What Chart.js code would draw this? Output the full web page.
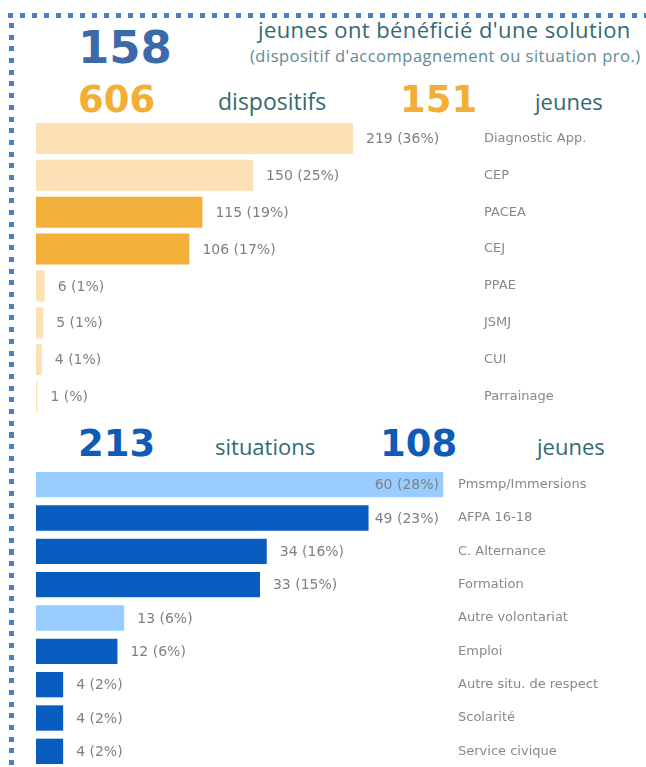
<!DOCTYPE html>
<html>
<head>
<meta charset="utf-8">
<script src="https://cdn.jsdelivr.net/npm/chart.js@4.4.0/dist/chart.umd.min.js"></script>
<style>
  html, body { margin: 0; padding: 0; background: #fff; width: 646px; height: 767px; overflow: hidden; }
  .abs { position: absolute; white-space: nowrap; line-height: 1; }
  .chiffre { font-family: "DejaVu Sans", sans-serif; font-weight: bold; }
  .mot { font-family: "Open Sans", sans-serif; color: #336a72; }
  #pointsHaut { position: absolute; left: 8px; top: 13px; width: 638px; height: 5px;
    background: repeating-linear-gradient(to right, #4a7fc4 0 5px, transparent 5px 12px); }
  #pointsGauche { position: absolute; left: 9px; top: 23px; width: 5px; height: 744px;
    background: repeating-linear-gradient(to bottom, #4a7fc4 0 5px, transparent 5px 11.7px); }
  canvas { position: absolute; left: 0; }
</style>
</head>
<body>
<div id="pointsHaut"></div>
<div id="pointsGauche"></div>

<div class="abs chiffre" style="left:78px; top:25px; font-size:45px; color:#3c69a8;">158</div>
<div class="abs mot" style="left:258px; top:18px; font-size:22px; letter-spacing:0.4px;">jeunes ont bénéficié d'une solution</div>
<div class="abs mot" style="left:250px; top:48px; font-size:16.5px; letter-spacing:0.5px; color:#5e8a92;">(dispositif d'accompagnement ou situation pro.)</div>

<div class="abs chiffre" style="left:78px; top:81px; font-size:37px; color:#f2ae35;">606</div>
<div class="abs mot" style="left:218px; top:90px; font-size:23px;">dispositifs</div>
<div class="abs chiffre" style="left:400px; top:81px; font-size:37px; color:#f2ae35;">151</div>
<div class="abs mot" style="left:535px; top:90px; font-size:22px;">jeunes</div>

<div class="abs chiffre" style="left:78px; top:425px; font-size:37px; color:#0e5bb8;">213</div>
<div class="abs mot" style="left:215px; top:435px; font-size:22px;">situations</div>
<div class="abs chiffre" style="left:380px; top:425px; font-size:37px; color:#0e5bb8;">108</div>
<div class="abs mot" style="left:537px; top:435px; font-size:22px;">jeunes</div>

<canvas id="grafikDispositifs" width="646" height="295" style="top:120px;"></canvas>
<canvas id="grafikSituations" width="646" height="300" style="top:468px;"></canvas>

<script>
// Data dispositifs
const dispositifs = ['Diagnostic App.', 'CEP', 'PACEA', 'CEJ', 'PPAE', 'JSMJ', 'CUI', 'Parrainage'];
const dispositifsValeurs = [219, 150, 115, 106, 6, 5, 4, 1];
const dispositifsPct = ['36%', '25%', '19%', '17%', '1%', '1%', '1%', '%'];

// Data situations
const situations = ['Pmsmp/Immersions', 'AFPA 16-18', 'C. Alternance', 'Formation', 'Autre volontariat',
  'Emploi', 'Autre situ. de respect', 'Scolarité', 'Service civique'];
const situationsValeurs = [60, 49, 34, 33, 13, 12, 4, 4, 4];
const situationsPct = ['28%', '23%', '16%', '15%', '6%', '6%', '2%', '2%', '2%'];

// labels "valeur (pct)" a droite des barres
function valeurLabels(pct, maxRight) {
  return {
    id: 'valeurLabels',
    afterDatasetsDraw(chart) {
      const ctx = chart.ctx;
      const meta = chart.getDatasetMeta(0);
      const values = chart.data.datasets[0].data;
      ctx.save();
      ctx.font = '14px "DejaVu Sans", sans-serif';
      ctx.fillStyle = '#808080';
      ctx.textBaseline = 'middle';
      meta.data.forEach((bar, i) => {
        const txt = values[i] + ' (' + pct[i] + ')';
        const w = ctx.measureText(txt).width;
        let x = bar.x + 13;
        if (x + w > maxRight) x = maxRight - w;
        ctx.fillText(txt, x, bar.y + 1);
      });
      ctx.restore();
    }
  };
}

function createBarChart(elementId, labels, values, colors, pct, xMax, axisWidth, barPct, maxRight) {
  return new Chart(document.getElementById(elementId), {
    type: 'bar',
    data: {
      labels: labels,
      datasets: [{
        data: values,
        backgroundColor: colors,
        borderWidth: 0,
        categoryPercentage: 1,
        barPercentage: barPct
      }]
    },
    options: {
      indexAxis: 'y',
      responsive: false,
      animation: false,
      layout: { padding: { left: 36, right: 0, top: 0, bottom: 0 } },
      scales: {
        x: { display: false, min: 0, max: xMax },
        y: {
          position: 'right',
          grid: { display: false, drawTicks: false },
          border: { display: false },
          ticks: { padding: 8, color: '#888888', font: { family: 'DejaVu Sans', size: 13 } },
          afterFit: function (scale) {
            scale.width = axisWidth;
            // pas de marge haut/bas pour les labels
            scale.paddingTop = 0;
            scale.paddingBottom = 0;
          }
        }
      },
      plugins: {
        legend: { display: false },
        tooltip: { enabled: false }
      }
    },
    plugins: [valeurLabels(pct, maxRight)]
  });
}

const peche = '#fbe1b4', orange = '#f3b03a';
const bleuClair = '#99ccff', bleu = '#0a5dc0';

createBarChart('grafikDispositifs', dispositifs, dispositifsValeurs,
  [peche, peche, orange, orange, peche, peche, peche, peche],
  dispositifsPct, 304, 170, 0.84, 470);

createBarChart('grafikSituations', situations, situationsValeurs,
  [bleuClair, bleu, bleu, bleu, bleuClair, bleu, bleu, bleu, bleu],
  situationsPct, 61, 196, 0.76, 439);
</script>
</body>
</html>
